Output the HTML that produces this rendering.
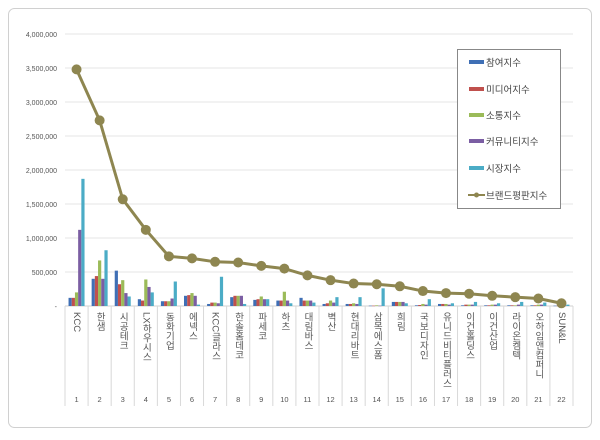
<!DOCTYPE html>
<html><head><meta charset="utf-8"><style>
body{margin:0;background:#fff;}
svg text{font-family:"Liberation Sans","Noto Sans CJK KR",sans-serif;}
</style></head><body>
<svg id="chart" width="600" height="435" viewBox="0 0 600 435" xmlns="http://www.w3.org/2000/svg">
<rect x="8.5" y="8.5" width="583" height="419" rx="6" fill="#fff" stroke="#d0d0d0"/>
<g id="grid"></g><g id="bars"></g><g id="line"></g><g id="xaxis"></g>
<g>
<rect x="457.5" y="49.5" width="103" height="159" fill="#fff" stroke="#888"/>
<g id="legend"></g>
</g>
</svg>
<script>
const categories=["KCC","한샘","시공테크","LX하우시스","동화기업","에넥스","KCC글라스","한솔홈데코","파세코","하츠","대림바스","벽산","현대리바트","삼목에스폼","희림","국보디자인","유니드비티플러스","이건홀딩스","이건산업","라이온켐텍","오하임앤컴퍼니","SUN&L"];
const participation=[120000,400000,520000,100000,70000,150000,30000,130000,90000,80000,120000,30000,30000,5000,60000,10000,30000,10000,10000,10000,10000,5000];
const media=[120000,440000,320000,80000,70000,160000,50000,150000,100000,80000,80000,40000,30000,5000,60000,15000,30000,20000,10000,10000,10000,5000];
const communication=[200000,670000,380000,390000,70000,190000,50000,150000,140000,210000,80000,80000,40000,10000,60000,30000,30000,20000,20000,10000,20000,5000];
const community=[1120000,400000,190000,280000,110000,150000,40000,150000,100000,80000,80000,50000,30000,5000,60000,20000,20000,20000,20000,20000,20000,5000];
const market=[1870000,820000,140000,200000,360000,20000,430000,30000,100000,40000,50000,130000,130000,260000,40000,100000,40000,60000,40000,60000,50000,20000];
const brandIndex=[3480000,2730000,1570000,1120000,730000,700000,650000,640000,590000,550000,450000,380000,330000,320000,290000,220000,190000,180000,150000,130000,110000,40000];
const yTicks=[0,500000,1000000,1500000,2000000,2500000,3000000,3500000,4000000];
const seriesNames=["참여지수","미디어지수","소통지수","커뮤니티지수","시장지수","브랜드평판지수"];

const NS="http://www.w3.org/2000/svg";
const X0=65,X1=573,Y0=306,Y1=34,YMAX=4000000;
const bw=(X1-X0)/categories.length;
const y=v=>Y0-(v/YMAX)*(Y0-Y1);
const xc=i=>X0+bw*(i+0.5);
function mk(tag,attrs,parent){const e=document.createElementNS(NS,tag);for(const k in attrs)e.setAttribute(k,attrs[k]);parent.appendChild(e);return e;}
const grid=document.getElementById('grid');
yTicks.forEach(t=>{
  const l=mk('line',{x1:X0,x2:X1,y1:y(t),y2:y(t),stroke:t===0?'#d0d0d0':'#e6e6e6'},grid);
  
  
  const tx=mk('text',{x:57,y:y(t)+3,'text-anchor':'end','font-size':'7','fill':'#555'},grid);
  tx.textContent=t===0?'-':t.toLocaleString('en-US');
  
  
});
const colors=["#3f6fb5","#c0504d","#9bbb59","#7b5ea3","#4bacc6"];
const series=[participation,media,communication,community,market];
const bars=document.getElementById('bars');
const sw=3.2;
categories.forEach((c,i)=>{
  series.forEach((s,k)=>{
    const x=xc(i)-sw*2.5+k*sw;
    const r=mk('rect',{x:x,y:y(s[i]),width:sw,height:Math.max(0.5,Y0-y(s[i])),fill:colors[k]},bars);
    
    
  });
});
const lg=document.getElementById('line');
const pts=brandIndex.map((v,i)=>xc(i)+','+y(v)).join(' ');
const pl=mk('polyline',{points:pts,fill:'none',stroke:'#8e8650','stroke-width':'3'},lg);


brandIndex.forEach((v,i)=>{
  const c=mk('circle',{cx:xc(i),cy:y(v),r:5,fill:'#8e8650'},lg);
  
  
});
const xa=document.getElementById('xaxis');
for(let i=0;i<=categories.length;i++){
  const l=mk('line',{x1:X0+bw*i,x2:X0+bw*i,y1:Y0,y2:406,stroke:'#d8d8d8'},xa);
  
  
}
categories.forEach((c,i)=>{
  const t=mk('text',{x:xc(i),y:312,'font-size':'9.5','fill':'#555','writing-mode':'vertical-rl','style':'writing-mode:vertical-rl'},xa);
  t.textContent=c;
  
  
  const n=mk('text',{x:xc(i),y:402,'font-size':'7.5','fill':'#555','text-anchor':'middle'},xa);
  n.textContent=i+1;
  
  
});
const leg=document.getElementById('legend');
const ly=[62,89,115,141,168,195];
seriesNames.forEach((n,k)=>{
  if(k<5){const r=mk('rect',{x:469,y:ly[k]-2,width:15,height:4,fill:colors[k]},leg);
    
    }
  else{mk('line',{x1:468,x2:485,y1:ly[k],y2:ly[k],stroke:'#8e8650','stroke-width':'2'},leg);
    const c=mk('circle',{cx:476.5,cy:ly[k],r:2.5,fill:'#8e8650'},leg);
    
    }
  const t=mk('text',{x:486,y:ly[k]+4,'font-size':'9.5','fill':'#444'},leg);
  t.textContent=n;
  
  
});
</script>
</body></html>
